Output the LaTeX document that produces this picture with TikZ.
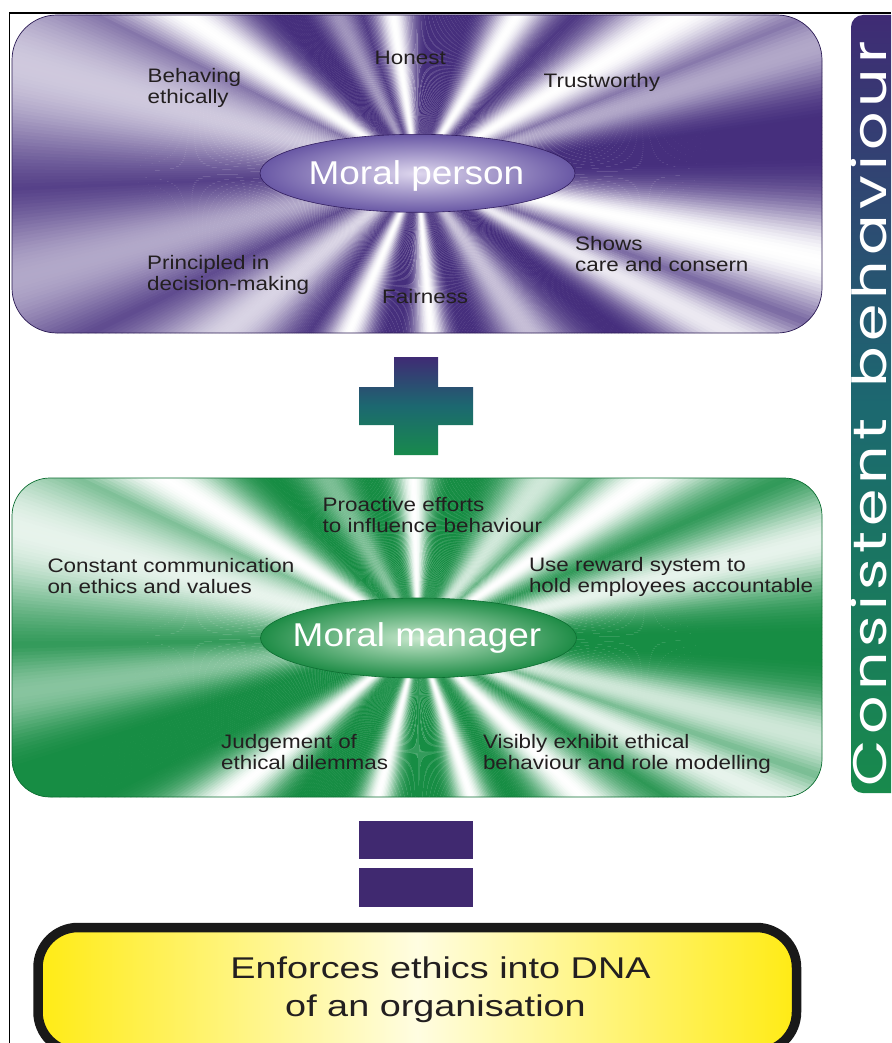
\documentclass[tikz,border=0pt]{standalone}
\usepackage{fontspec}
\setmainfont{Liberation Sans}
\newfontfamily\gothic{Poppins}
\usepackage{graphicx}
\usetikzlibrary{shapes.geometric}

\definecolor{pdark}{RGB}{62,38,120}
\definecolor{gdark}{RGB}{16,137,62}
\definecolor{barpurple}{RGB}{63,43,116}
\definecolor{barteal}{RGB}{28,104,112}
\definecolor{bargreen}{RGB}{24,138,76}
\definecolor{eqpurple}{RGB}{64,41,112}
\definecolor{txt}{RGB}{35,31,32}
\definecolor{yedge}{RGB}{255,235,20}
\definecolor{ymid}{RGB}{255,253,225}
\definecolor{pell}{RGB}{105,88,165}
\definecolor{pellin}{RGB}{222,215,238}
\definecolor{gell}{RGB}{30,140,70}
\definecolor{gellin}{RGB}{200,232,205}

\newcommand\lab[1]{\scalebox{1.15}[1]{\begin{tabular}{@{}l@{}}#1\end{tabular}}}
\newcommand\wl[1]{\scalebox{1.28}[1]{#1}}

% conic starburst: #1 x, #2 y, #3 dark colour, #4 base lightness, #5 rays angle/width/amplitude
\newcommand\burst[5]{%
  \foreach \s in {0,0.5,...,359.5}{%
    \gdef\bsum{#4}%
    \foreach \r/\w/\a in {#5}{%
      \pgfmathsetmacro\dd{min(abs(mod(\s+\r+540,360)-180),3*\w)}%
      \pgfmathsetmacro\ee{\dd/\w}%
      \pgfmathsetmacro\cc{max(\bsum,\a*exp(-\ee*\ee))}%
      \xdef\bsum{\cc}%
    }%
    \pgfmathsetmacro\pc{100*\bsum}%
    \fill[white!\pc!#3] (#1,#2) -- +(\s:1000) -- +(\s+0.6:1000) -- cycle;
  }}

\tikzset{
  lbl/.style={font=\fontsize{19.5}{21}\selectfont, text=txt, inner sep=0pt, anchor=north west},
  etext/.style={font=\fontsize{33}{33}\selectfont, text=white, inner sep=0pt, anchor=base},
  ytext/.style={font=\fontsize{30}{36}\selectfont, text=txt, inner sep=0pt, anchor=base},
  panelp/.style={line width=0.7pt, draw=pdark!70!black, rounded corners=45pt},
  panelg/.style={line width=0.7pt, draw=gdark!80!black, rounded corners=38pt},
  pellipse/.style={ellipse, inner sep=0pt, minimum width=315pt, minimum height=78pt,
     draw=pdark!80!black, line width=0.6pt, inner color=pellin, outer color=pell},
  gellipse/.style={ellipse, inner sep=0pt, minimum width=316pt, minimum height=80pt,
     draw=gdark!80!black, line width=0.6pt, inner color=gellin, outer color=gell},
  barshade/.style={top color=barpurple, bottom color=bargreen, middle color=barteal},
  eqbar/.style={fill=eqpurple},
  ybox/.style={line width=9.5pt, draw=black!90, rounded corners=40pt,
     left color=yedge, right color=yedge, middle color=ymid},
  frame/.style={line width=1.6pt, draw=black}
}

\begin{document}
\begin{tikzpicture}[x=1pt,y=-1pt]
\useasboundingbox (0,0) rectangle (891,1043);
\begin{scope}
\clip (0,0) rectangle (891,1043);

% frame
\draw[frame] (9.5,1043) -- (9.5,13) -- (891,13);

% ---------- purple panel ----------
\begin{scope}
  \clip[rounded corners=45pt] (12,15) rectangle (822,333);
  \burst{417.5}{173}{pdark}{0.04}{165/13/0.75, 146/8/1, 117/6/0.5, 99/7/1, 58/8/1, 31/9/1, 18/6/0.6, -12/8/1, -27/6/0.9, -55/9/0.7, -85/6/1, -113/7/1, -140/11/0.8, -165/10/0.6}
\end{scope}
\draw[panelp] (12,15) rectangle (822,333);

\node[pellipse] (mpe) at (417.5,173.3) {};
\node[etext] (mpt) at (416.5,184) {\scalebox{1.12}[1]{Moral person}};

\node[lbl] (honest) at (374.5,49.3) {\lab{Honest}};
\node[lbl] (behav) at (147.5,68) {\lab{Behaving\\ethically}};
\node[lbl] (trust) at (543.5,72.6) {\lab{Trustworthy}};
\node[lbl] (shows) at (575,235.3) {\lab{Shows\\care and consern}};
\node[lbl] (princ) at (147,254.6) {\lab{Principled in\\decision-making}};
\node[lbl] (fair) at (382,288.6) {\lab{Fairness}};

% ---------- plus ----------
\path[barshade] (394,357) -- (438,357) -- (438,387) -- (473,387) -- (473,425) -- (438,425)
  -- (438,455) -- (394,455) -- (394,425) -- (359,425) -- (359,387) -- (394,387) -- cycle;

% ---------- green panel ----------
\begin{scope}
  \clip[rounded corners=38pt] (12,478) rectangle (822,797);
  \burst{418.5}{638}{gdark}{0.03}{165/12/0.9, 148/8/1, 120/7/0.45, 92/7/1, 52/10/0.8, 35/8/1, 14/7/0.9, -14/6/0.8, -24/6/0.9, -44/8/1, -71.5/6/1, -104/6/1, -140/7/1, -172/6/0.5}
\end{scope}
\draw[panelg] (12,478) rectangle (822,797);

\node[gellipse] (mme) at (418.5,638) {};
\node[etext] (mmt) at (417,646) {\scalebox{1.12}[1]{Moral manager}};

\node[lbl] (proac) at (322.5,496.3) {\lab{Proactive efforts\\to influence behaviour}};
\node[lbl] (const) at (47.3,558) {\lab{Constant communication\\on ethics and values}};
\node[lbl] (reward) at (528.8,556.3) {\lab{Use reward system to\\hold employees accountable}};
\node[lbl] (judge) at (220.9,733.6) {\lab{Judgement of\\ethical dilemmas}};
\node[lbl] (visib) at (482.8,733.6) {\lab{Visibly exhibit ethical\\behaviour and role modelling}};

% ---------- equals ----------
\path[eqbar] (359,821) rectangle (473,859);
\path[eqbar] (359,868) rectangle (473,907);

% ---------- result box ----------
\path[ybox] (38,927.5) rectangle (796.5,1052);
\node[ytext] (res1) at (440.5,978) {\scalebox{1.26}[1]{Enforces ethics into DNA}};
\node[ytext] (res2) at (435.5,1016.7) {\scalebox{1.26}[1]{of an organisation}};

% ---------- side bar ----------
\path[barshade, rounded corners=12pt] (851,15) rectangle (910,793);
\node[rotate=90, text=white, inner sep=0pt] (cons) at (869,413.5)
  {\hbox to 745pt{\fontsize{47}{47}\gothic \wl{C}\hfill \wl{o}\hfill \wl{n}\hfill \wl{s}\hfill \wl{i}\hfill \wl{s}\hfill \wl{t}\hfill \wl{e}\hfill \wl{n}\hfill \wl{t}\hskip 0pt plus 6fill \wl{b}\hfill \wl{e}\hfill \wl{h}\hfill \wl{a}\hfill \wl{v}\hfill \wl{i}\hfill \wl{o}\hfill \wl{u}\hfill \wl{r}}};

\end{scope}
\end{tikzpicture}
\end{document}
